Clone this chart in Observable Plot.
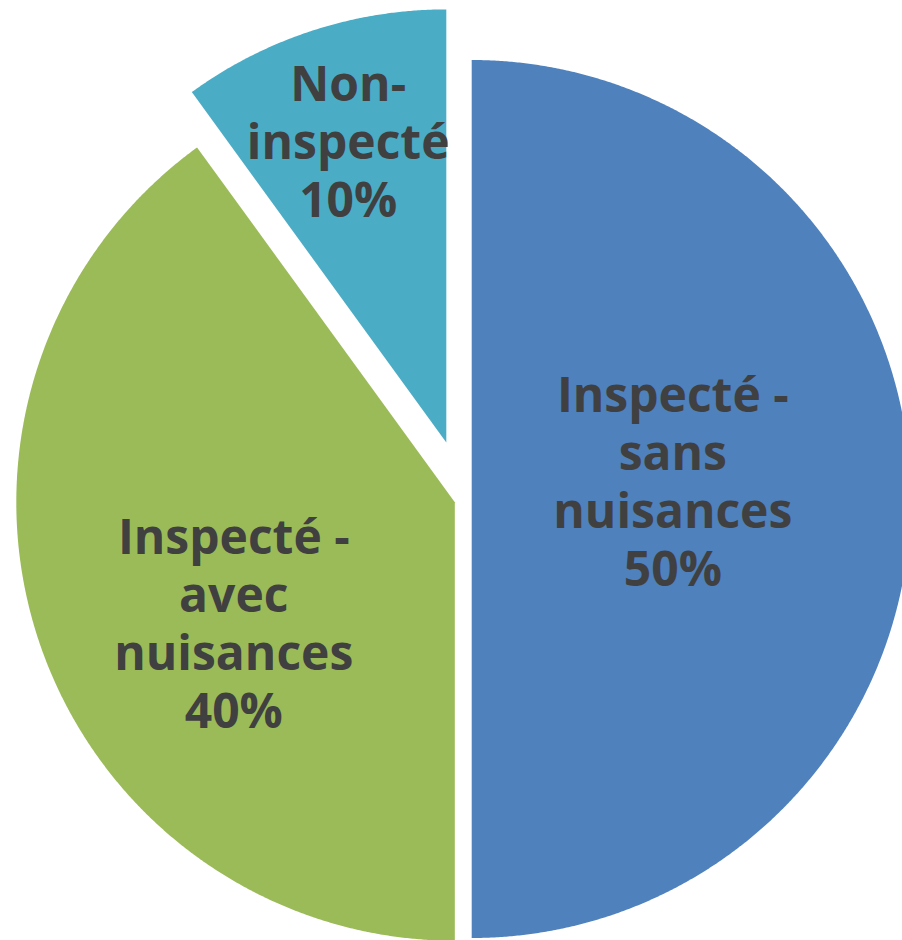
<!DOCTYPE html>
<html>
<head>
<meta charset="utf-8">
<script src="https://cdn.jsdelivr.net/npm/d3@7"></script>
<script src="https://cdn.jsdelivr.net/npm/@observablehq/plot@0.6"></script>
<style>
  html, body { margin: 0; padding: 0; background: #ffffff; overflow: hidden; }
  #chart { width: 902px; height: 940px; }
</style>
</head>
<body>
<div id="chart"></div>
<script>
// ---- data ----
const categories = ["Inspecté - sans nuisances", "Inspecté - avec nuisances", "Non-inspecté"];
const values = [50, 40, 10];
const colors = ["#4F81BD", "#9BBB59", "#4BACC6"];

// ---- layout (style constants) ----
const W = 902, H = 940;
const base = {x: 464.2, y: 498.5};
const explode = [7, 10.4, 59.5];
const radius = [439, 438.5, 433];
const labelDist = [202, 251.5, 317.5];
const labelTurn = [-5.4, -10.5, 0]; // degrees

const wrap = (name) => name
  .replace(/-(\S)/g, "-\n$1")
  .replace(/ - /g, " -\n")
  .replace(/ (?!-)/g, "\n");

const table = categories.map((name, i) => ({name, value: values[i], color: colors[i], i}));
const arcs = d3.pie().sort(null).value(d => d.value).startAngle(0).endAngle(2 * Math.PI)(table);

const slices = arcs.map(a => {
  const i = a.data.i;
  const mid = (a.startAngle + a.endAngle) / 2;
  const cx = base.x + explode[i] * Math.sin(mid);
  const cy = base.y - explode[i] * Math.cos(mid);
  const r = radius[i];
  const n = Math.max(2, Math.ceil((a.endAngle - a.startAngle) / (Math.PI / 720)));
  const pts = [{x: cx, y: cy}];
  for (let k = 0; k <= n; k++) {
    const t = a.startAngle + (a.endAngle - a.startAngle) * k / n;
    pts.push({x: cx + r * Math.sin(t), y: cy - r * Math.cos(t)});
  }
  pts.push({x: cx, y: cy});
  const la = mid + labelTurn[i] * Math.PI / 180;
  const label = {
    x: cx + labelDist[i] * Math.sin(la),
    y: cy - labelDist[i] * Math.cos(la),
    text: wrap(a.data.name) + "\n" + a.data.value + "%"
  };
  return {pts, color: a.data.color, label};
});

const plot = Plot.plot({
  width: W,
  height: H,
  margin: 0,
  x: {domain: [0, W], range: [0, W], axis: null},
  y: {domain: [0, H], range: [0, H], axis: null},
  style: {background: "#ffffff", overflow: "hidden"},
  marks: [
    ...slices.map(s => Plot.line(s.pts, {x: "x", y: "y", fill: s.color, stroke: "none", clip: true})),
    Plot.text(slices.map(s => s.label), {
      x: "x", y: "y", text: "text",
      fontFamily: "'Open Sans', sans-serif",
      fontWeight: 700,
      fontSize: 48,
      lineHeight: 1.208,
      lineAnchor: "middle",
      textAnchor: "middle",
      fill: "#404040"
    })
  ]
});
document.getElementById("chart").appendChild(plot);
</script>
</body>
</html>
